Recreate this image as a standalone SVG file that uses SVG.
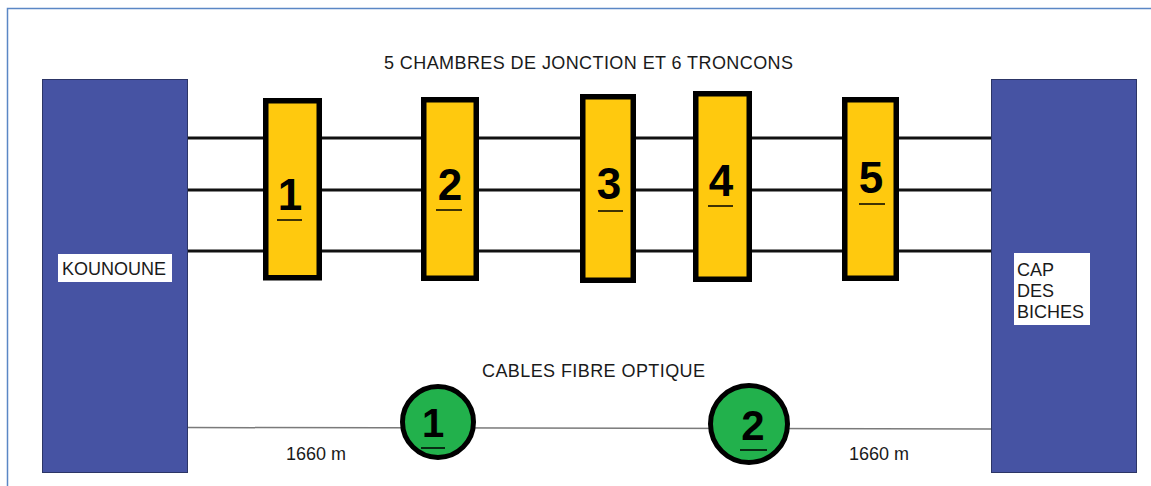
<svg xmlns="http://www.w3.org/2000/svg" width="1151" height="486" viewBox="0 0 1151 486">
<style>
.frame{fill:none;stroke:#5b87c5;stroke-width:1.5}
.site{fill:#4653a3;stroke:#2c3566;stroke-width:1}
.lbl{fill:#ffffff}
.t{font-family:"Liberation Sans",Arial,sans-serif;font-size:18px;fill:#1a1a1a}
.ch{fill:#ffc90e;stroke:#000;stroke-width:5.5}
.num{font-family:"Liberation Sans",Arial,sans-serif;font-weight:bold;font-size:44px;fill:#000;text-anchor:middle}
.ul{stroke:#000;stroke-width:1.5}
.fo{fill:#22b14c;stroke:#000;stroke-width:5}
.cable{stroke:#111;stroke-width:3}
.fiber{stroke:#7a7a7a;stroke-width:1.5}
</style>
<rect x="0" y="0" width="1151" height="486" fill="#ffffff"/>
<rect class="frame" x="7.5" y="8.5" width="1200" height="500"/>
<text class="t" x="384" y="69" textLength="409">5 CHAMBRES DE JONCTION ET 6 TRONCONS</text>
<text class="t" x="482" y="377" textLength="223">CABLES FIBRE OPTIQUE</text>
<g id="connectors">
<line class="cable" x1="188" y1="138" x2="991" y2="138"/>
<line class="cable" x1="188" y1="190" x2="991" y2="190"/>
<line class="cable" x1="188" y1="251" x2="991" y2="251"/>
<line class="fiber" x1="188" y1="427.5" x2="991" y2="429"/>
</g>
<g id="kounoune">
<rect class="site" x="42.5" y="79.5" width="145" height="393"/>
<rect class="lbl" x="58" y="254" width="114" height="28"/>
<text class="t" x="62" y="275">KOUNOUNE</text>
</g>
<g id="cap-des-biches">
<rect class="site" x="991.5" y="79.5" width="145" height="393"/>
<rect class="lbl" x="1014" y="253" width="76" height="72"/>
<text class="t" x="1017" y="276">CAP</text>
<text class="t" x="1017" y="297">DES</text>
<text class="t" x="1017" y="318">BICHES</text>
</g>
<g id="chambre-1">
<rect class="ch" x="265.75" y="100.75" width="53.5" height="177"/>
<text class="num" x="290" y="210">1</text>
<line class="ul" x1="277" y1="220" x2="302" y2="220"/>
</g>
<g id="chambre-2">
<rect class="ch" x="423.75" y="99.75" width="52.5" height="178.5"/>
<text class="num" x="450" y="200">2</text>
<line class="ul" x1="436" y1="210" x2="462" y2="210"/>
</g>
<g id="chambre-3">
<rect class="ch" x="582.75" y="96.75" width="50.5" height="183.5"/>
<text class="num" x="609" y="199">3</text>
<line class="ul" x1="598" y1="211" x2="623" y2="211"/>
</g>
<g id="chambre-4">
<rect class="ch" x="695.75" y="93.75" width="53.5" height="185.5"/>
<text class="num" x="721" y="196">4</text>
<line class="ul" x1="708" y1="206" x2="733" y2="206"/>
</g>
<g id="chambre-5">
<rect class="ch" x="844.75" y="99.75" width="51.5" height="178.5"/>
<text class="num" x="871" y="193">5</text>
<line class="ul" x1="859" y1="204" x2="885" y2="204"/>
</g>
<g id="fibre-1">
<circle class="fo" cx="438" cy="422" r="35.5"/>
<text class="num" x="433" y="437" style="font-size:40px">1</text>
<line class="ul" x1="421" y1="448" x2="445" y2="448"/>
</g>
<g id="fibre-2">
<circle class="fo" cx="749" cy="424" r="38.5"/>
<text class="num" x="753" y="440" style="font-size:42px">2</text>
<line class="ul" x1="740" y1="450" x2="767" y2="450"/>
</g>
<text class="t" x="286" y="460">1660 m</text>
<text class="t" x="849" y="460">1660 m</text>
</svg>
